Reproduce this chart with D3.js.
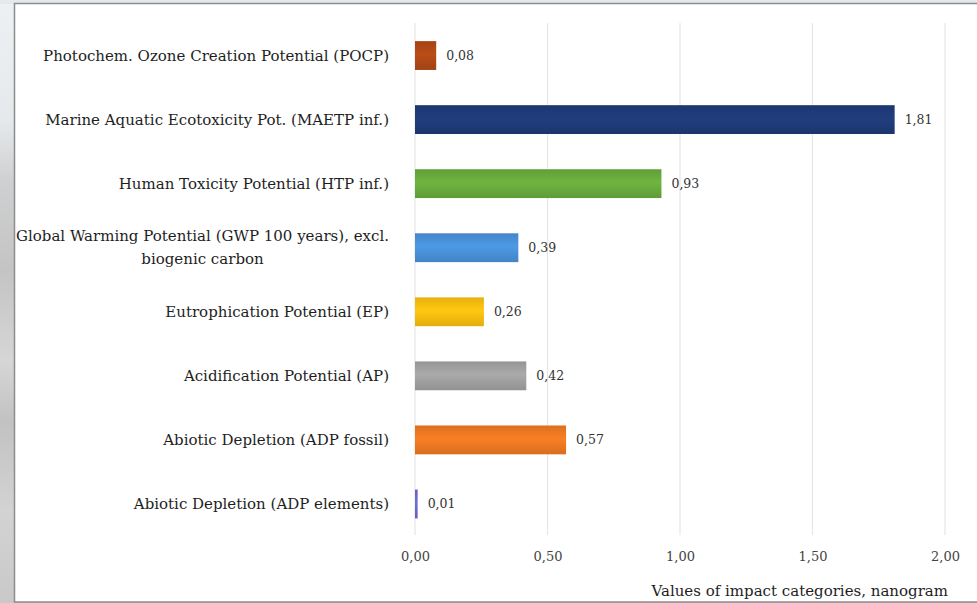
<!DOCTYPE html>
<html>
<head>
<meta charset="utf-8">
<script src="https://cdn.jsdelivr.net/npm/d3@7"></script>
<style>
  html, body { margin: 0; padding: 0; background: #ffffff; }
  svg { display: block; }
</style>
</head>
<body>
<svg id="chart" width="977" height="603"></svg>
<script>
// Impact categories, top to bottom
const categories = [
  "Photochem. Ozone Creation Potential (POCP)",
  "Marine Aquatic Ecotoxicity Pot. (MAETP inf.)",
  "Human Toxicity Potential (HTP inf.)",
  "Global Warming Potential (GWP 100 years), excl.|biogenic carbon",
  "Eutrophication Potential (EP)",
  "Acidification Potential (AP)",
  "Abiotic Depletion (ADP fossil)",
  "Abiotic Depletion (ADP elements)"
];
const values = [0.08, 1.81, 0.93, 0.39, 0.26, 0.42, 0.57, 0.01];
const barColors = ["#b34a16", "#1f3b7a", "#6aad3d", "#4a93dc", "#fdc00f", "#a3a3a3", "#f07a22", "#6a6ad0"];
const xTicks = [0, 0.5, 1.0, 1.5, 2.0];
const xTitle = "Values of impact categories, nanogram";

const W = 977, H = 603;
const FONT = "'DejaVu Serif', serif";
const svg = d3.select("#chart");
const defs = svg.append("defs");

// soft backdrop strip on the left and top, then the framed chart area
const bg = defs.append("linearGradient").attr("id", "bgGrad").attr("x1", 0).attr("x2", 0).attr("y1", 0).attr("y2", 1);
[[0, "#eef1f4"], [0.2, "#e6e9ec"], [0.3, "#cfd0d1"], [0.45, "#c4c4c4"], [0.6, "#d6d6d6"], [0.7, "#c2c2c2"], [0.85, "#d3d3d3"], [1, "#c9c9c9"]]
  .forEach(([o, c]) => bg.append("stop").attr("offset", o).attr("stop-color", c));
svg.append("rect").attr("x", 0).attr("y", 0).attr("width", W).attr("height", H).attr("fill", "url(#bgGrad)");
svg.append("rect").attr("x", 0).attr("y", 0).attr("width", W).attr("height", 4).attr("fill", "#e4e9ee");
svg.append("rect").attr("x", 14.5).attr("y", 3.5).attr("width", W).attr("height", H - 4.5)
  .attr("fill", "#ffffff").attr("stroke", "#8c8c8c").attr("stroke-width", 1.5);

// vertical shading for each bar colour
barColors.forEach((c, i) => {
  const g = defs.append("linearGradient").attr("id", "bar" + i).attr("x1", 0).attr("x2", 0).attr("y1", 0).attr("y2", 1);
  const base = d3.color(c);
  g.append("stop").attr("offset", 0).attr("stop-color", base.darker(0.25));
  g.append("stop").attr("offset", 0.45).attr("stop-color", base.brighter(0.12));
  g.append("stop").attr("offset", 1).attr("stop-color", base.darker(0.3));
});

const x = d3.scaleLinear().domain([0, 2]).range([415, 945]);
const y = d3.scaleBand().domain(categories).range([23.5, 536]).paddingInner(0.55).paddingOuter(0.275);

const fmt = d3.formatLocale({ decimal: ",", thousands: ".", grouping: [3], currency: ["", ""] }).format(".2f");

// gridlines
svg.append("g").selectAll("line").data(xTicks).join("line")
  .attr("x1", d => x(d)).attr("x2", d => x(d))
  .attr("y1", 23).attr("y2", 535)
  .attr("stroke", "#e6e6e6").attr("stroke-width", 1.2);

// x axis tick labels
const xAxis = d3.axisBottom(x).tickValues(xTicks).tickFormat(fmt).tickSize(0).tickPadding(0);
const ax = svg.append("g").attr("transform", "translate(0,552)").call(xAxis);
ax.select(".domain").remove();
ax.selectAll("text").attr("font-family", FONT).attr("font-size", 13).attr("fill", "#444");

// bars
svg.append("g").selectAll("rect").data(values).join("rect")
  .attr("x", x(0))
  .attr("y", (d, i) => y(categories[i]))
  .attr("width", d => Math.max(1.5, x(d) - x(0)))
  .attr("height", y.bandwidth())
  .attr("fill", (d, i) => "url(#bar" + i + ")");

// value labels
svg.append("g").selectAll("text").data(values).join("text")
  .attr("x", d => Math.max(x(d), x(0) + 1.5) + 10)
  .attr("y", (d, i) => y(categories[i]) + y.bandwidth() / 2)
  .attr("dy", "0.35em")
  .attr("font-family", FONT).attr("font-size", 12.5).attr("fill", "#333")
  .text(d => fmt(d));

// category labels (right aligned; multi-line labels centred within their block)
const labelRight = 389;
const lab = svg.append("g").attr("font-family", FONT).attr("font-size", 15).attr("fill", "#1e1e1e");
categories.forEach((c, i) => {
  const lines = c.split("|");
  const cy = y(c) + y.bandwidth() / 2;
  if (lines.length === 1) {
    lab.append("text").attr("x", labelRight).attr("y", cy).attr("dy", "0.35em")
      .attr("text-anchor", "end").text(lines[0]);
  } else {
    const lh = 23;
    const t = lab.append("text").attr("text-anchor", "middle");
    lines.forEach((l, k) => {
      t.append("tspan").attr("x", 0).attr("y", cy + (k - (lines.length - 1) / 2) * lh).attr("dy", "0.35em").text(l);
    });
    const wMax = d3.max(t.selectAll("tspan").nodes(), n => n.getComputedTextLength());
    t.selectAll("tspan").attr("x", labelRight - wMax / 2);
  }
});

// axis title
svg.append("text").attr("x", 948).attr("y", 596).attr("text-anchor", "end")
  .attr("font-family", FONT).attr("font-size", 15).attr("fill", "#1e1e1e")
  .text(xTitle);
</script>
</body>
</html>
